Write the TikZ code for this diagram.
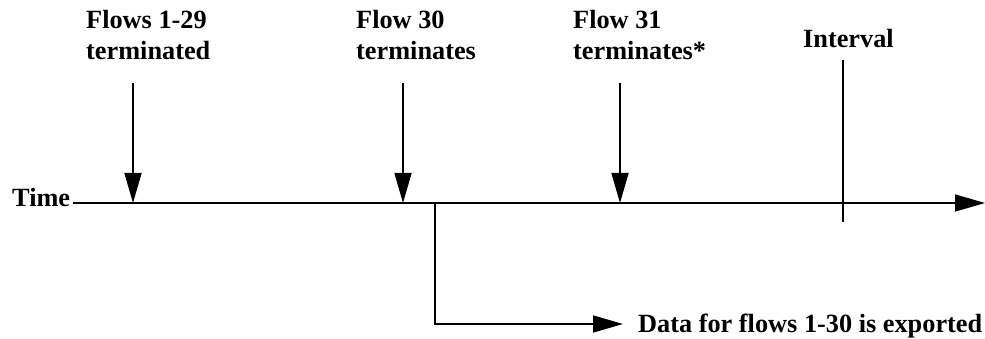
\documentclass[tikz,border=0pt]{standalone}
\usepackage{fontspec}
\setmainfont{Liberation Serif}
\usetikzlibrary{arrows.meta}
\begin{document}
\begin{tikzpicture}[x=1pt,y=1pt,
  lbl/.style={font=\fontsize{26.3}{31}\selectfont\bfseries, inner sep=0pt, anchor=base west},
  conn/.style={line width=1.6pt},
  arr/.style={conn, -{Triangle[length=30pt,width=17pt]}}]
\useasboundingbox (0,0) rectangle (985,339);
% labels
\node[lbl] (l1a) at (86,310) {Flows 1-29};
\node[lbl] (l1b) at (86,279) {terminated};
\node[lbl] (l2a) at (356,310) {Flow 30};
\node[lbl] (l2b) at (356,279) {terminates};
\node[lbl] (l3a) at (573,310) {Flow 31};
\node[lbl] (l3b) at (573,279) {terminates*};
\node[lbl] (int) at (803,291) {Interval};
\node[lbl] (time) at (12,132) {Time};
\node[lbl] (data) at (638,6) {Data for flows 1-30 is exported};
% coordinates
\coordinate (ts) at (73,136);
\coordinate (te) at (985,136);
\coordinate (a1t) at (133,256);
\coordinate (a1b) at (133,136);
\coordinate (a2t) at (403,256);
\coordinate (a2b) at (403,136);
\coordinate (a3t) at (620,256);
\coordinate (a3b) at (620,136);
\coordinate (it) at (843,279);
\coordinate (ib) at (843,117);
\coordinate (ex0) at (435,136);
\coordinate (ex1) at (435,15);
\coordinate (ex2) at (623,15);
% connectors
\draw[arr] (ts) -- (te);
\draw[arr] (a1t) -- (a1b);
\draw[arr] (a2t) -- (a2b);
\draw[arr] (a3t) -- (a3b);
\draw[conn] (it) -- (ib);
\draw[arr] (ex0) -- (ex1) -- (ex2);
\end{tikzpicture}
\end{document}
